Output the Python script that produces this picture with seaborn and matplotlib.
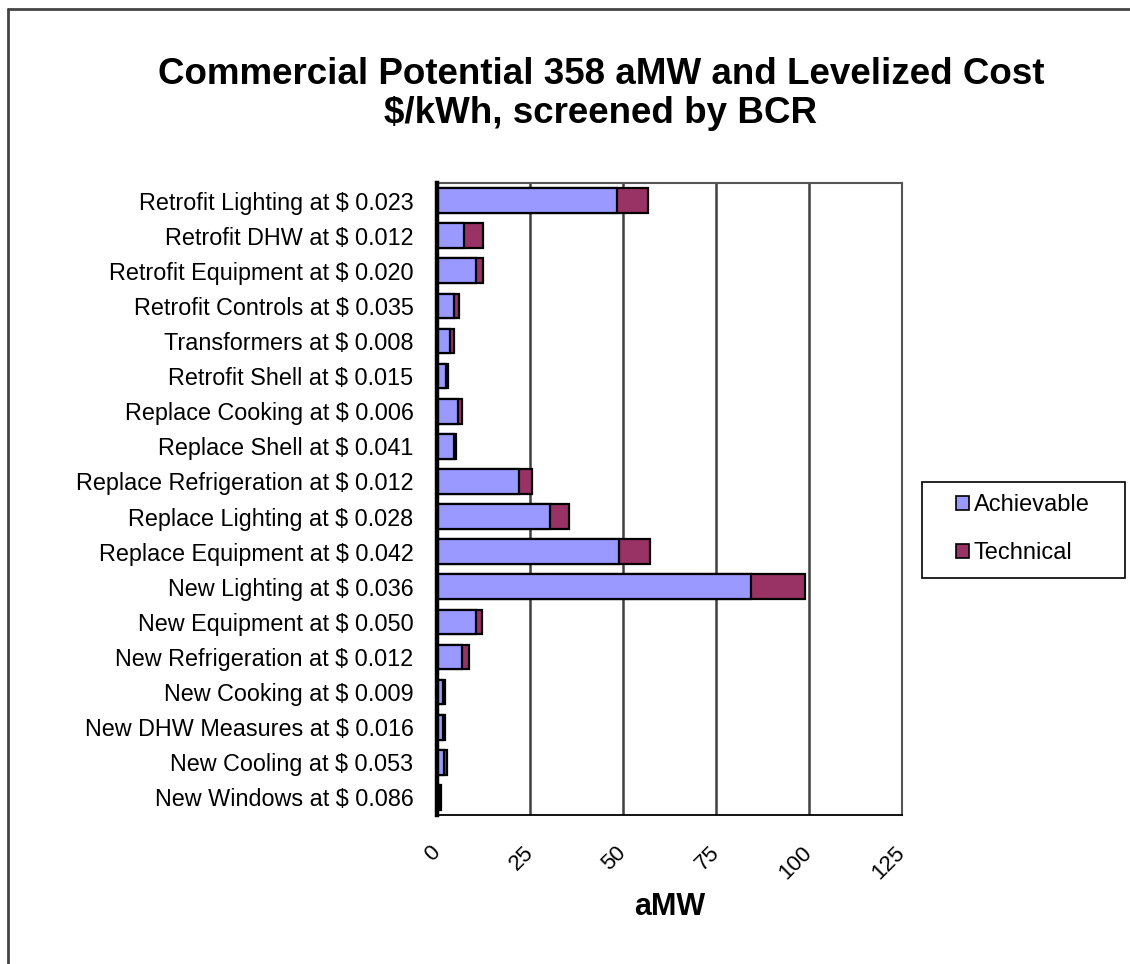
import matplotlib
matplotlib.use("Agg")
import matplotlib.pyplot as plt
from matplotlib.lines import Line2D
from matplotlib.patches import Rectangle, Patch
import numpy as np
import pandas as pd
import seaborn as sns

# Conservation measures with levelized cost ($/kWh)
measures = [
    "Retrofit Lighting", "Retrofit DHW", "Retrofit Equipment", "Retrofit Controls",
    "Transformers", "Retrofit Shell", "Replace Cooking", "Replace Shell",
    "Replace Refrigeration", "Replace Lighting", "Replace Equipment", "New Lighting",
    "New Equipment", "New Refrigeration", "New Cooking", "New DHW Measures",
    "New Cooling", "New Windows",
]
cost = ["0.023", "0.012", "0.020", "0.035", "0.008", "0.015", "0.006", "0.041",
        "0.012", "0.028", "0.042", "0.036", "0.050", "0.012", "0.009", "0.016",
        "0.053", "0.086"]

# Potential in aMW: achievable portion and additional technical portion
achievable = [48.3, 7.3, 10.4, 4.6, 3.6, 2.5, 5.7, 4.6, 22.0, 30.4, 48.9, 84.3,
              10.4, 6.8, 1.7, 1.5, 1.9, 0.6]
technical = [8.5, 5.1, 2.0, 1.2, 1.0, 0.5, 1.1, 0.6, 3.6, 5.2, 8.4, 14.6,
             1.6, 1.7, 0.5, 0.6, 0.7, 0.6]

labels = [f"{m} at $ {c}" for m, c in zip(measures, cost)]
df = pd.DataFrame({
    "label": labels,
    "Achievable": achievable,
    "Technical": technical,
})
df["Total"] = df["Achievable"] + df["Technical"]

ACH_COLOR = "#9999FF"
TEC_COLOR = "#993366"

sns.set_theme(style="white")
plt.rcParams["font.family"] = ["Liberation Sans", "DejaVu Sans"]
plt.rcParams["text.color"] = "black"
plt.rcParams["axes.labelcolor"] = "black"
plt.rcParams["xtick.color"] = "black"
plt.rcParams["ytick.color"] = "black"

fig = plt.figure(figsize=(11.3, 9.64), dpi=100)
fig.patch.set_facecolor("white")
ax = fig.add_axes([437 / 1130, 1 - 815 / 964, 465 / 1130, 632 / 964])

# Stacked bars: full (achievable + technical) length, then achievable over it
sns.barplot(data=df, x="Total", y="label", orient="h", color=TEC_COLOR,
            saturation=1, width=0.7, edgecolor="black", linewidth=1.6, ax=ax,
            zorder=3)
sns.barplot(data=df, x="Achievable", y="label", orient="h", color=ACH_COLOR,
            saturation=1, width=0.7, edgecolor="black", linewidth=1.6, ax=ax,
            zorder=4)

n = len(df)
ax.set_xlim(0, 125)
ax.set_ylim(n - 0.5, -0.5)
ax.set_xticks([0, 25, 50, 75, 100, 125])
ax.set_xticklabels(["0", "25", "50", "75", "100", "125"], rotation=45,
                   ha="right", va="center", rotation_mode="anchor",
                   fontsize=16, color="black")
ax.tick_params(axis="x", direction="inout", length=10, width=1.2,
               color="black", pad=20)

ax.set_yticks(range(n))
ax.set_yticklabels(labels, fontsize=16.8, color="black")
ax.set_yticks(np.arange(-0.5, n, 1.0), minor=True)
ax.tick_params(axis="y", which="major", length=0, pad=17)
ax.tick_params(axis="y", which="minor", direction="out", length=6, width=1.4,
               color="black")
ax.set_ylabel("")
ax.set_xlabel("aMW", fontsize=22, fontweight="bold", labelpad=6, color="black")

# Gridlines and plot-area frame
ax.xaxis.grid(True, color="#404040", linewidth=1.8, zorder=0)
ax.set_axisbelow(True)
for side in ("top", "right"):
    ax.spines[side].set_visible(True)
    ax.spines[side].set_color("#555555")
    ax.spines[side].set_linewidth(1.5)
ax.spines["left"].set_color("black")
ax.spines["left"].set_linewidth(3.2)
ax.spines["left"].set_zorder(6)
ax.spines["bottom"].set_color("black")
ax.spines["bottom"].set_linewidth(1.3)

# Title
fig.text(601 / 1130, 1 - 57 / 964,
         "Commercial Potential 358 aMW and Levelized Cost\n$/kWh, screened by BCR",
         ha="center", va="top", fontsize=26.5, fontweight="bold",
         linespacing=1.15, color="black")

# Legend with a square frame
handles = [Patch(facecolor=ACH_COLOR, edgecolor="black", linewidth=1.2),
           Patch(facecolor=TEC_COLOR, edgecolor="black", linewidth=1.2)]
fig.legend(handles, ["Achievable", "Technical"], loc="center",
           bbox_to_anchor=(1023 / 1130, 1 - 529 / 964), frameon=False,
           fontsize=17, handlelength=0.55, handleheight=0.55,
           handletextpad=0.2, labelspacing=1.1, labelcolor="black")
fig.add_artist(Rectangle((922 / 1130, 1 - 578 / 964), 203 / 1130, 96 / 964,
                         transform=fig.transFigure, facecolor="none",
                         edgecolor="black", linewidth=1.2))

# Outer chart border (top and left edges)
fig.add_artist(Line2D([8 / 1130, 1.0], [1 - 9 / 964, 1 - 9 / 964],
                      transform=fig.transFigure, color="#444444", linewidth=2))
fig.add_artist(Line2D([8 / 1130, 8 / 1130], [0.0, 1 - 9 / 964],
                      transform=fig.transFigure, color="#444444", linewidth=2))

fig.savefig("out.png", dpi=100, facecolor="white")
